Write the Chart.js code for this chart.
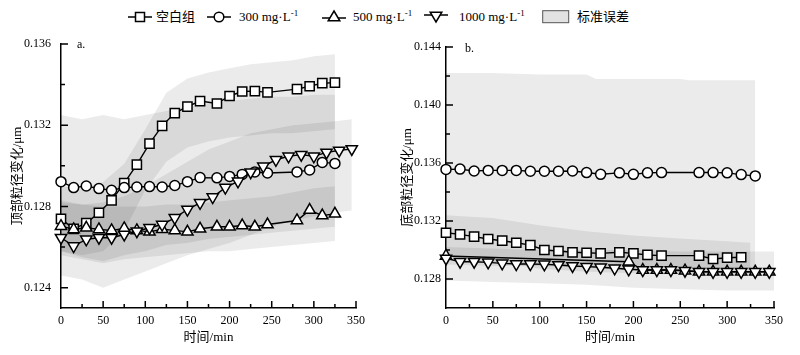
<!DOCTYPE html>
<html>
<head>
<meta charset="utf-8">
<script src="https://cdn.jsdelivr.net/npm/chart.js"></script>
<style>
  body { margin: 0; background: #fff; }
  #wrap { position: relative; width: 800px; height: 355px; overflow: hidden; font-family: 'Liberation Serif', 'Noto Sans CJK SC', serif; color: #000; }
  .pane { position: absolute; top: 0; width: 400px; height: 355px; }
  .lg { position: absolute; font-size: 13px; line-height: 16px; white-space: nowrap; }
  .lg sup { font-size: 9px; vertical-align: 5px; line-height: 0; }
  .sym { position: absolute; }
  .tag { position: absolute; font-size: 12px; }
</style>
</head>
<body>
<div id="wrap">
  <svg class="sym" style="left:128px;top:10px" width="24" height="14"><line x1="0" y1="7" x2="24" y2="7" stroke="#000" stroke-width="1.5"/><rect x="7.5" y="2.5" width="9" height="9" fill="#fff" stroke="#000" stroke-width="1.5"/></svg>
  <div class="lg" style="left:156px;top:9px">空白组</div>
  <svg class="sym" style="left:207px;top:10px" width="24" height="14"><line x1="0" y1="7" x2="24" y2="7" stroke="#000" stroke-width="1.5"/><circle cx="12" cy="7" r="4.8" fill="#fff" stroke="#000" stroke-width="1.5"/></svg>
  <div class="lg" style="left:239px;top:9px">300 mg·L<sup>-1</sup></div>
  <svg class="sym" style="left:322px;top:9px" width="24" height="14"><line x1="0" y1="9" x2="24" y2="9" stroke="#000" stroke-width="1.5"/><polygon points="12,2 17.8,11.8 6.2,11.8" fill="#fff" stroke="#000" stroke-width="1.5"/></svg>
  <div class="lg" style="left:353px;top:9px">500 mg·L<sup>-1</sup></div>
  <svg class="sym" style="left:424px;top:10px" width="24" height="14"><line x1="0" y1="5" x2="24" y2="5" stroke="#000" stroke-width="1.5"/><polygon points="6.2,2.2 17.8,2.2 12,12" fill="#fff" stroke="#000" stroke-width="1.5"/></svg>
  <div class="lg" style="left:459px;top:9px">1000 mg·L<sup>-1</sup></div>
  <svg class="sym" style="left:542px;top:10px" width="28" height="14"><rect x="0.7" y="0.7" width="26" height="12" fill="#e2e2e2" stroke="#555" stroke-width="1"/></svg>
  <div class="lg" style="left:577px;top:9px">标准误差</div>

  <div class="pane" style="left:0"><canvas id="left" width="400" height="355"></canvas></div>
  <div class="pane" style="left:400px"><canvas id="right" width="400" height="355"></canvas></div>
  <div class="tag" style="left:77px;top:37px">a.</div>
  <div class="tag" style="left:465px;top:41px">b.</div>
</div>

<script>
// ---- panel a: 顶部 ----
const timesA = [0, 15, 30, 45, 60, 75, 90, 105, 120, 135, 150, 165, 185, 200, 215, 230, 245, 280, 295, 310, 325];
const timesA1000 = [0, 15, 30, 45, 60, 75, 90, 105, 120, 135, 150, 165, 180, 195, 210, 225, 240, 255, 270, 285, 300, 315, 330, 345];
const blankA = [0.12739, 0.12690, 0.12718, 0.12769, 0.12830, 0.12915, 0.13006, 0.13109, 0.13197, 0.13260, 0.13292, 0.13319, 0.13307, 0.13344, 0.13366, 0.13368, 0.13362, 0.13378, 0.13392, 0.13407, 0.13410];
const c300A = [0.12922, 0.12893, 0.12901, 0.12888, 0.12880, 0.12893, 0.12896, 0.12898, 0.12896, 0.12903, 0.12922, 0.12942, 0.12941, 0.12948, 0.12958, 0.12970, 0.12965, 0.12970, 0.12980, 0.13017, 0.13012];
const c500A = [0.12703, 0.12687, 0.12695, 0.12687, 0.12682, 0.12692, 0.12682, 0.12675, 0.12688, 0.12682, 0.12675, 0.12690, 0.12700, 0.12700, 0.12706, 0.12700, 0.12711, 0.12731, 0.12782, 0.12755, 0.12764];
const c1000A = [0.12646, 0.12605, 0.12638, 0.12646, 0.12646, 0.12662, 0.12678, 0.12695, 0.12711, 0.12744, 0.12785, 0.12818, 0.12846, 0.12893, 0.12924, 0.12969, 0.12998, 0.13030, 0.13047, 0.13055, 0.13047, 0.13066, 0.13076, 0.13083];

// standard error bands, panel a
const bandTimesA = [0, 25, 50, 75, 100, 125, 150, 175, 200, 225, 250, 275, 300, 325];
const bandTimesA1000 = [0, 25, 50, 75, 100, 125, 150, 175, 200, 225, 250, 275, 300, 325, 345];
const blankHiA = [0.1290, 0.1289, 0.1292, 0.1301, 0.1318, 0.1336, 0.1343, 0.1346, 0.1348, 0.1350, 0.1351, 0.1352, 0.1354, 0.1355];
const blankLoA = [0.1258, 0.1256, 0.1258, 0.1268, 0.1288, 0.1302, 0.1309, 0.1312, 0.1314, 0.1315, 0.1316, 0.1316, 0.1317, 0.1318];
const c300HiA = [0.1325, 0.1323, 0.1325, 0.1323, 0.1325, 0.1327, 0.1329, 0.1331, 0.1332, 0.1333, 0.1334, 0.1334, 0.1335, 0.1335];
const c300LoA = [0.1258, 0.1255, 0.1253, 0.1256, 0.1258, 0.1261, 0.1262, 0.1264, 0.1265, 0.1266, 0.1267, 0.1268, 0.1269, 0.1270];
const c500HiA = [0.1282, 0.1281, 0.1280, 0.1280, 0.1280, 0.1281, 0.1281, 0.1282, 0.1283, 0.1284, 0.1285, 0.1287, 0.1289, 0.1290];
const c500LoA = [0.1256, 0.1254, 0.1252, 0.1254, 0.1255, 0.1256, 0.1257, 0.1258, 0.1258, 0.1259, 0.1260, 0.1261, 0.1262, 0.1263];
const c1000HiA = [0.1283, 0.1281, 0.1282, 0.1285, 0.1290, 0.1296, 0.1302, 0.1308, 0.1312, 0.1316, 0.1318, 0.1320, 0.1321, 0.1322, 0.1323];
const c1000LoA = [0.1246, 0.1244, 0.1240, 0.1244, 0.1248, 0.1252, 0.1256, 0.1259, 0.1262, 0.1266, 0.1270, 0.1273, 0.1275, 0.1277, 0.1278];

// ---- panel b: 底部 ----
const timesBblank = [0, 15, 30, 45, 60, 75, 90, 105, 120, 135, 150, 165, 185, 200, 215, 230, 270, 285, 300, 315];
const timesB300 = [0, 15, 30, 45, 60, 75, 90, 105, 120, 135, 150, 165, 185, 200, 215, 230, 270, 285, 300, 315, 330];
const timesB500 = [0, 195, 210, 225, 240, 255, 270, 285, 300, 315, 330, 345];
const timesB1000 = [0, 15, 30, 45, 60, 75, 90, 105, 120, 135, 150, 165, 180, 195, 210, 225, 240, 255, 270, 285, 300, 315, 330, 345];
const blankB = [0.13119, 0.13108, 0.13092, 0.13076, 0.13064, 0.13050, 0.13034, 0.13000, 0.12993, 0.12984, 0.12981, 0.12977, 0.12984, 0.12977, 0.12966, 0.12961, 0.12961, 0.12938, 0.12947, 0.12950];
const c300B = [0.13556, 0.13558, 0.13545, 0.13549, 0.13549, 0.13549, 0.13543, 0.13543, 0.13543, 0.13545, 0.13534, 0.13522, 0.13532, 0.13522, 0.13532, 0.13534, 0.13534, 0.13534, 0.13532, 0.13520, 0.13511];
const c500B = [0.12959, 0.12919, 0.12862, 0.12862, 0.12862, 0.12857, 0.12850, 0.12850, 0.12850, 0.12850, 0.12850, 0.12850];
const c1000B = [0.12942, 0.12919, 0.12919, 0.12915, 0.12908, 0.12903, 0.12903, 0.12901, 0.12897, 0.12890, 0.12885, 0.12881, 0.12874, 0.12867, 0.12862, 0.12862, 0.12862, 0.12857, 0.12850, 0.12850, 0.12850, 0.12850, 0.12850, 0.12850];

const bandTimesB300 = [0, 50, 100, 150, 160, 250, 260, 330];
const c300HiB = [0.1422, 0.1422, 0.1421, 0.1421, 0.1418, 0.1418, 0.1417, 0.1417];
const c300LoB = [0.1290, 0.1289, 0.1289, 0.1288, 0.1288, 0.1287, 0.1287, 0.1286];
const bandTimesBblank = [0, 50, 100, 150, 200, 250, 300, 325];
const blankHiB = [0.1324, 0.1322, 0.1317, 0.1313, 0.1310, 0.1308, 0.1306, 0.1305];
const blankLoB = [0.1297, 0.1292, 0.1287, 0.1285, 0.1284, 0.1283, 0.1283, 0.1283];
const bandTimesB1000 = [0, 50, 100, 150, 200, 250, 300, 350];
const c1000HiB = [0.1302, 0.1301, 0.1300, 0.1300, 0.1300, 0.1299, 0.1299, 0.1299];
const c1000LoB = [0.1279, 0.1278, 0.1277, 0.1276, 0.1274, 0.1273, 0.1272, 0.1272];

const serif = "'Liberation Serif', 'Noto Sans CJK SC', serif";
Chart.defaults.font.family = serif;
Chart.defaults.color = '#000';

function pts(t, v) {
  return t.map((x, i) => ({ x: x, y: v[i] }));
}

function series(label, t, v, style, order, rot) {
  const r = style === 'circle' ? 5 : 6.5;
  return {
    label: label,
    data: pts(t, v),
    borderColor: '#000',
    borderWidth: 1.4,
    pointStyle: style,
    pointRotation: rot || 0,
    pointRadius: r,
    pointHoverRadius: r,
    pointBackgroundColor: '#fff',
    pointBorderColor: '#000',
    pointBorderWidth: 1.5,
    fill: false,
    clip: false,
    order: order
  };
}

function band(t, hi, lo) {
  return [
    { data: pts(t, hi), borderWidth: 0, pointRadius: 0, fill: '+1', backgroundColor: 'rgba(0,0,0,0.08)', order: 10 },
    { data: pts(t, lo), borderWidth: 0, pointRadius: 0, fill: false, order: 10 }
  ];
}

function isMajorY(v) {
  const k = Math.round(v * 1000);
  return Math.abs(v * 1000 - k) < 1e-6 && k % 4 === 0;
}

// tick marks point into the plot, longer on labelled ticks
const inwardTicks = {
  id: 'inwardTicks',
  afterDraw(chart) {
    const { ctx, chartArea: a, scales: { x, y } } = chart;
    ctx.save();
    ctx.strokeStyle = '#000';
    ctx.lineWidth = 1.5;
    ctx.beginPath();
    x.ticks.forEach(t => {
      if (t.value <= x.min) return;
      const p = x.getPixelForValue(t.value);
      const len = t.value % 50 === 0 ? 7 : 4;
      ctx.moveTo(p, a.bottom);
      ctx.lineTo(p, a.bottom - len);
    });
    y.ticks.forEach(t => {
      if (t.value <= y.min + 1e-9) return;
      const p = y.getPixelForValue(t.value);
      const len = isMajorY(t.value) ? 7 : 4;
      ctx.moveTo(a.left, p);
      ctx.lineTo(a.left + len, p);
    });
    ctx.stroke();
    ctx.restore();
  }
};

function makeChart(id, datasets, o) {
  return new Chart(document.getElementById(id), {
    type: 'line',
    data: { datasets: datasets },
    options: {
      responsive: false,
      animation: false,
      events: [],
      layout: { padding: { top: o.top, right: o.right, left: 0, bottom: 0 } },
      plugins: { legend: { display: false }, tooltip: { enabled: false } },
      scales: {
        x: {
          type: 'linear',
          min: 0,
          max: 350,
          afterFit: s => { s.height = 47; },
          grid: { display: false, drawTicks: false },
          border: { display: true, color: '#000', width: 1.5 },
          ticks: {
            stepSize: 25,
            autoSkip: false,
            maxRotation: 0,
            padding: 6,
            font: { size: 12 },
            callback: v => (v % 50 === 0 ? String(v) : '')
          },
          title: { display: true, text: '时间/min', font: { size: 13 }, padding: { top: 0, bottom: 10 } }
        },
        y: {
          type: 'linear',
          min: o.ymin,
          max: o.ymax,
          afterFit: s => { s.width = o.axisW; },
          grid: { display: false, drawTicks: false },
          border: { display: true, color: '#000', width: 1.5 },
          ticks: {
            stepSize: 0.002,
            includeBounds: false,
            autoSkip: false,
            padding: o.tickPad,
            font: { size: 12 },
            callback: v => (isMajorY(v) ? v.toFixed(3) : '')
          },
          title: { display: true, text: o.ytitle, font: { size: 13 }, padding: { top: o.titlePad, bottom: 0 } }
        }
      }
    },
    plugins: [inwardTicks]
  });
}

makeChart('left', [
  ...band(bandTimesA, blankHiA, blankLoA),
  ...band(bandTimesA, c300HiA, c300LoA),
  ...band(bandTimesA, c500HiA, c500LoA),
  ...band(bandTimesA1000, c1000HiA, c1000LoA),
  series('空白组', timesA, blankA, 'rect', 4),
  series('300 mg·L-1', timesA, c300A, 'circle', 3),
  series('500 mg·L-1', timesA, c500A, 'triangle', 2),
  series('1000 mg·L-1', timesA1000, c1000A, 'triangle', 1, 180)
], { top: 44, right: 44, ymin: 0.123, ymax: 0.136, axisW: 61, tickPad: 10, titlePad: 10, ytitle: '顶部粒径变化/μm' });

makeChart('right', [
  ...band(bandTimesB300, c300HiB, c300LoB),
  ...band(bandTimesBblank, blankHiB, blankLoB),
  ...band(bandTimesB1000, c1000HiB, c1000LoB),
  series('空白组', timesBblank, blankB, 'rect', 4),
  series('300 mg·L-1', timesB300, c300B, 'circle', 3),
  series('500 mg·L-1', timesB500, c500B, 'triangle', 2),
  series('1000 mg·L-1', timesB1000, c1000B, 'triangle', 1, 180)
], { top: 47, right: 26, ymin: 0.126, ymax: 0.144, axisW: 46, tickPad: 5, titlePad: 0, ytitle: '底部粒径变化/μm' });
</script>
</body>
</html>
